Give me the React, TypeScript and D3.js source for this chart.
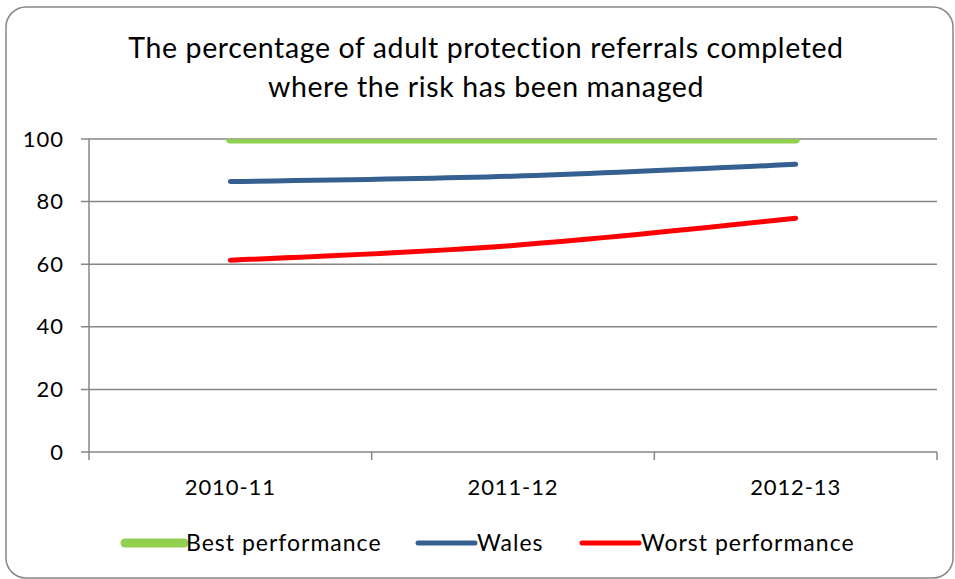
import React from 'react';
import * as d3 from 'd3';

const years = ['2010-11', '2011-12', '2012-13'];
const bestPerformance = [100, 100, 100];
const wales = [86.4, 88.1, 91.9];
const worstPerformance = [61.3, 66.0, 74.7];
const yTicks = [0, 20, 40, 60, 80, 100];

const series = [
  { name: 'Best performance', values: bestPerformance, color: '#92D050', width: 9 },
  { name: 'Wales', values: wales, color: '#376092', width: 5 },
  { name: 'Worst performance', values: worstPerformance, color: '#FF0000', width: 5 },
];

const W = 955;
const H = 579;
const left = 89;
const right = 937;
const top = 139;
const bottom = 452;
const font = 'Lato, "Open Sans", sans-serif';

const App = () => {
  const x = d3.scaleBand().domain(years).range([left, right]);
  const y = d3.scaleLinear().domain([0, 100]).range([bottom, top]);

  const line = d3.line<number>()
    .curve(d3.curveCatmullRom)
    .x((_, i) => x(years[i])! + x.bandwidth() / 2)
    .y(d => y(d));

  const bounds = [left, ...years.map(yr => x(yr)! + x.bandwidth())];

  const legendItems = [
    { lx: 125, tx: 186 },
    { lx: 418, tx: 477 },
    { lx: 582, tx: 641 },
  ];

  return (
    <svg width={W} height={H} style={{ position: 'absolute', left: 0, top: 0 }}>
      <rect x={0} y={0} width={W} height={H} fill="#fff" />
      <rect x={6} y={7} width={947} height={571} rx={20} ry={20} fill="#fff" stroke="#868686" strokeWidth={1.5} />

      <text x={486} y={58} textAnchor="middle" fontFamily={font} fontSize={28.5} letterSpacing={0.6} fill="#000">
        The percentage of adult protection referrals completed
      </text>
      <text x={486} y={97} textAnchor="middle" fontFamily={font} fontSize={28.5} letterSpacing={0.6} fill="#000">
        where the risk has been managed
      </text>

      <defs>
        <clipPath id="plot">
          <rect x={left} y={top} width={right - left} height={bottom - top} />
        </clipPath>
      </defs>

      {yTicks.map(t => (
        <g key={t}>
          <line x1={left - 8} x2={right} y1={y(t)} y2={y(t)} stroke="#868686" strokeWidth={1.5} />
          <text x={64} y={y(t) + 7.5} textAnchor="end" fontFamily={font} fontSize={22} letterSpacing={1} fill="#000">{t}</text>
        </g>
      ))}
      <line x1={left} x2={left} y1={top} y2={bottom} stroke="#868686" strokeWidth={1.5} />
      {bounds.map((b, i) => (
        <line key={i} x1={b} x2={b} y1={bottom} y2={bottom + 8} stroke="#868686" strokeWidth={1.5} />
      ))}
      {years.map(yr => (
        <text key={yr} x={x(yr)! + x.bandwidth() / 2} y={495} textAnchor="middle" fontFamily={font} fontSize={22} letterSpacing={0.9} fill="#000">{yr}</text>
      ))}

      <g clipPath="url(#plot)">
        {series.map(s => (
          <path key={s.name} d={line(s.values)!} fill="none" stroke={s.color} strokeWidth={s.width}
            strokeLinecap="round" strokeLinejoin="round" />
        ))}
      </g>

      {series.map((s, i) => (
        <g key={s.name}>
          <line x1={legendItems[i].lx} x2={legendItems[i].tx - 2} y1={543} y2={543} stroke={s.color}
            strokeWidth={s.width} strokeLinecap="round" />
          <text x={legendItems[i].tx} y={551} fontFamily={font} fontSize={23} letterSpacing={1} fill="#000">{s.name}</text>
        </g>
      ))}
    </svg>
  );
};

export default App;
